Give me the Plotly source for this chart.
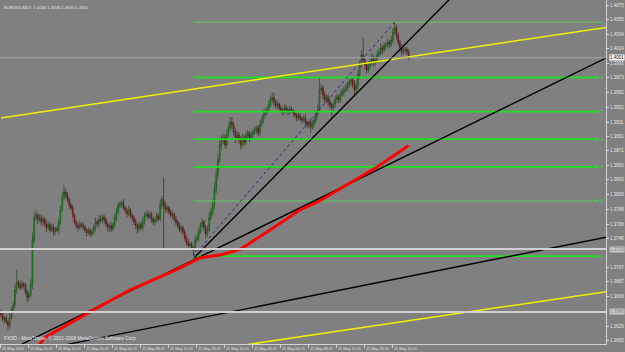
import plotly.graph_objects as go
from datetime import datetime, timedelta

# ---------------- data (prices in pips above 1.3600) ----------------
BASE_TIME = datetime(2009, 5, 20, 12, 15)   # first M15 bar
BAR = timedelta(minutes=15)

close_pips = [
    41, 34, 37, 31,   26, 37, 48, 55,   76, 86, 83, 79,   84, 82, 73, 65,
    69, 83, 146, 177, 181, 174, 177, 171, 175, 168, 163, 167, 160, 164, 157, 161,
    160, 171, 188, 205, 213, 209, 202, 195, 191, 181, 171, 166, 163, 168, 166, 164,
    160, 156, 159, 154, 157, 163, 171, 168, 175, 173, 178, 174, 168, 163, 166, 161,
    167, 177, 185, 194, 196, 198, 191, 187, 182, 188, 180, 177, 171, 166, 161, 167,
    163, 171, 180, 182, 178, 182, 175, 171, 174, 180, 175, 195, 202, 194, 188, 191,
    185, 180, 182, 175, 171, 166, 160, 163, 157, 149, 142, 138, 140, 135, 132, 146,
    149, 157, 166, 171, 163, 154, 160, 177, 185, 195, 216, 237, 258, 279, 286, 289,
    279, 293, 303, 311, 307, 297, 289, 293, 286, 279, 289, 283, 292, 296, 289, 293,
    297, 300, 303, 296, 307, 314, 321, 325, 328, 335, 342, 345, 339, 334, 336, 331,
    328, 325, 331, 328, 325, 329, 327, 324, 321, 317, 320, 315, 314, 317, 310, 307,
    311, 304, 308, 314, 321, 328, 356, 359, 349, 342, 346, 339, 335, 331, 336, 342,
    346, 342, 349, 353, 356, 359, 363, 367, 370, 364, 356, 362, 377, 391, 405, 398,
    391, 384, 390, 395, 401, 394, 398, 405, 409, 415, 412, 418, 419, 423, 420, 426,
    437, 443, 433, 423, 415, 409, 412, 413, 409, 401,
]
first_open_pips = 45

wick_up_pips = [
    3, 4, 2, 5,  3, 6, 4, 5,  8, 18, 4, 6,  5, 3, 4, 3,
    6, 8, 10, 6,  7, 3, 5, 4,  4, 3, 5, 6,  3, 5, 4, 3,
    4, 5, 6, 8,  10, 5, 4, 3,  3, 4, 2, 3,  4, 5, 3, 4,
    3, 2, 4, 3,  5, 4, 6, 3,  6, 5, 4, 3,  3, 4, 3, 5,
    4, 5, 6, 5,  4, 3, 5, 3,  4, 6, 3, 4,  3, 4, 3, 5,
    4, 6, 5, 4,  5, 3, 4, 3,  4, 5, 3, 8,  6, 31, 5, 4,
    3, 4, 5, 3,  4, 3, 5, 4,  3, 4, 3, 5,  4, 3, 2, 6,
    5, 6, 4, 5,  3, 4, 6, 8,  6, 8, 10, 9,  8, 10, 7, 6,
    5, 8, 6, 7,  7, 4, 5, 6,  4, 5, 6, 4,  5, 4, 3, 5,
    4, 5, 3, 4,  6, 5, 7, 6,  5, 6, 5, 7,  7, 4, 5, 3,
    4, 3, 5, 4,  3, 5, 4, 3,  4, 3, 5, 4,  3, 4, 5, 3,
    4, 3, 5, 6,  5, 7, 17, 6,  4, 5, 3, 4,  5, 3, 4, 6,
    5, 4, 6, 5,  4, 6, 5, 4,  5, 4, 6, 7,  8, 6, 7, 24,
    5, 4, 6, 5,  6, 4, 5, 6,  5, 6, 4, 5,  4, 5, 3, 6,
    6, 8, 5, 4,  3, 5, 4, 3,  3, 4,
]
wick_dn_pips = [
    4, 3, 5, 3,  6, 4, 3, 5,  4, 6, 5, 4,  3, 5, 4, 6,
    5, 3, 6, 5,  4, 6, 3, 5,  5, 4, 6, 3,  4, 3, 5, 4,
    3, 5, 4, 3,  4, 5, 3, 6,  4, 5, 3, 4,  5, 3, 4, 5,
    4, 5, 3, 4,  3, 4, 5, 4,  5, 3, 4, 5,  4, 5, 6, 4,
    3, 4, 5, 3,  4, 5, 3, 4,  5, 3, 4, 5,  4, 5, 6, 4,
    3, 5, 4, 3,  4, 3, 5, 4,  5, 4, 3, 4,  5, 62, 4, 5,
    4, 3, 5, 4,  5, 4, 3, 5,  4, 5, 4, 3,  5, 4, 9, 3,
    4, 5, 3, 4,  5, 6, 4, 3,  4, 5, 6, 5,  6, 5, 7, 6,
    5, 6, 4, 5,  6, 5, 7, 4,  5, 6, 4, 5,  4, 5, 6, 4,
    5, 4, 6, 5,  4, 3, 5, 4,  5, 4, 3, 5,  6, 5, 4, 5,
    4, 5, 3, 4,  5, 4, 3, 5,  4, 5, 4, 3,  5, 4, 6, 5,
    5, 8, 4, 5,  4, 5, 3, 5,  6, 5, 4, 6,  5, 13, 4, 5,
    4, 5, 4, 3,  5, 4, 5, 4,  6, 5, 10, 4,  5, 6, 4, 5,
    6, 5, 4, 5,  5, 6, 4, 5,  4, 5, 6, 4,  5, 4, 5, 4,
    5, 4, 6, 5,  6, 5, 4, 5,  4, 3,
]

# red indicator line (bar index, pips)
ma_bars = [22, 25, 50, 74, 100, 114, 126, 137, 154, 171, 181, 197, 215, 233]
ma_pips = [-1, 9, 44, 76, 104, 121, 125, 133, 160, 188, 199, 222, 248, 278]

# trend lines: (bar index, price) anchor pairs
yellow_upper = [(0, 1.39168), (347, 1.40440)]
yellow_lower = [(140, 1.35989), (347, 1.36737)]
black_steep = [(110.5, 1.37210), (258, 1.40870)]
black_middle = [(12, 1.35999), (347, 1.40023)]
black_lower = [(38, 1.35995), (347, 1.37502)]

# Fibonacci retracement
fib_low_bar, fib_low = 110, 1.3723
fib_high_bar, fib_high = 225, 1.4051
fib_end_bar = 341
fib_ratios = [0.0, 0.236, 0.382, 0.5, 0.618, 0.764, 1.0]
fib_labels = ["0.0", "23.6", "38.2", "50.0", "61.8", "76.4", "100.0"]

# horizontal lines
level_lines = [1.3733, 1.3645]
bid_price = 1.4001

# axis ticks
x_tick_bars = [0, 16, 32, 48, 64, 80, 96, 112, 128, 144, 160, 176, 192, 208, 224]
x_tick_text = ["20 May 2009", "20 May 16:15", "20 May 20:15", "21 May 00:15",
               "21 May 04:15", "21 May 08:15", "21 May 12:15", "21 May 16:15",
               "21 May 20:15", "22 May 00:15", "22 May 04:15", "22 May 08:15",
               "22 May 12:15", "22 May 16:15", "22 May 20:15"]
# (labels hidden under the line price boxes are omitted)
y_tick_vals = [1.4075, 1.4055, 1.4034, 1.4014, 1.3993, 1.3973, 1.3952, 1.3932,
               1.3911, 1.3891, 1.3871, 1.3850, 1.3830, 1.3809, 1.3789, 1.3768,
               1.3748, 1.3707, 1.3687, 1.3666, 1.3625, 1.3605]

header_text = "EURUSD,M15  1.4006 1.4006 1.4000 1.4001"
footer_text = "FXDD - MetaTrader, © 2001-2008 MetaQuotes Software Corp."

# ---------------- helpers ----------------
def t(bar):
    return BASE_TIME + BAR * bar

def price(p):
    return round(1.36 + p / 10000.0, 5)

n = len(close_pips)
times = [t(i) for i in range(n)]
# every bar opens at the prior bar's close
open_pips = [first_open_pips] + close_pips[:-1]
highs = [price(max(o, c) + u) for o, c, u in zip(open_pips, close_pips, wick_up_pips)]
lows = [price(min(o, c) - d) for o, c, d in zip(open_pips, close_pips, wick_dn_pips)]
opens = [price(o) for o in open_pips]
closes = [price(c) for c in close_pips]

BG = "#808080"
AX = "#d4d4d4"
TXT = "#e6e6e6"
FONT = "Liberation Sans"

fig = go.Figure()

fig.add_trace(go.Candlestick(
    x=times, open=opens, high=highs, low=lows, close=closes,
    increasing=dict(line=dict(color="#1f4a1f", width=0.7), fillcolor="#00d000"),
    decreasing=dict(line=dict(color="#4a1f1f", width=0.7), fillcolor="#d00000"),
    whiskerwidth=0, showlegend=False, hoverinfo="skip",
))

# bid line
fig.add_hline(y=bid_price, line=dict(color="#a6a6a6", width=1))

# horizontal level lines
for lv in level_lines:
    fig.add_hline(y=lv, line=dict(color="#d0d0d0", width=2))

# Fibonacci levels
for r, lab in zip(fib_ratios, fib_labels):
    lvl = fib_high - r * (fib_high - fib_low)
    w = 1 if r in (0.0, 0.764) else 1.8
    col = "#5ccc5c" if r in (0.0, 0.764) else "#1ee01e"
    fig.add_trace(go.Scatter(x=[t(fib_low_bar), t(fib_end_bar)], y=[lvl, lvl],
                             mode="lines", line=dict(color=col, width=w),
                             showlegend=False, hoverinfo="skip"))
    fig.add_annotation(x=1.0, xref="paper", y=lvl, yref="y", text=lab,
                       showarrow=False, xanchor="right", yanchor="middle",
                       font=dict(family=FONT, size=4.2, color="#22e022"))

# Fibonacci base (dotted)
fig.add_trace(go.Scatter(x=[t(fib_low_bar), t(fib_high_bar)], y=[fib_low, fib_high],
                         mode="lines", line=dict(color="#25258a", width=1, dash="dot"),
                         showlegend=False, hoverinfo="skip"))

def add_line(pts, color, width):
    fig.add_trace(go.Scatter(x=[t(b) for b, _ in pts], y=[p for _, p in pts],
                             mode="lines", line=dict(color=color, width=width),
                             showlegend=False, hoverinfo="skip"))

add_line(yellow_upper, "#f0f000", 1.5)
add_line(yellow_lower, "#f0f000", 1.5)
add_line(black_steep, "#000000", 1.4)
add_line(black_middle, "#000000", 1.4)
add_line(black_lower, "#000000", 1.4)

fig.add_trace(go.Scatter(x=[t(b) for b in ma_bars], y=[price(p) for p in ma_pips],
                         mode="lines", line=dict(color="#ff0000", width=3),
                         showlegend=False, hoverinfo="skip"))

# price boxes on the right axis
for val, bg, fg in [(bid_price, "#ffffff", "#000000"),
                    (level_lines[0], "#c8c8c8", "#808080"),
                    (level_lines[1], "#c8c8c8", "#808080")]:
    fig.add_annotation(x=1.0, xref="paper", y=val, yref="y", text=f"{val:.4f}",
                       showarrow=False, xanchor="left", yanchor="middle", xshift=3,
                       bgcolor=bg, borderpad=0,
                       font=dict(family=FONT, size=4.5, color=fg))

fig.add_annotation(x=0.004, xref="paper", y=0.99, yref="paper", text=header_text,
                   showarrow=False, xanchor="left", yanchor="top",
                   font=dict(family=FONT, size=4.2, color=TXT))
fig.add_annotation(x=0.004, xref="paper", y=0.004, yref="paper", text=footer_text,
                   showarrow=False, xanchor="left", yanchor="bottom",
                   font=dict(family=FONT, size=4.8, color=TXT))

fig.update_layout(
    width=625, height=352, autosize=False,
    margin=dict(l=0, r=19, t=0, b=8),
    paper_bgcolor=BG, plot_bgcolor=BG,
    showlegend=False,
    xaxis=dict(
        type="date", range=[t(-0.55), t(345.8)],
        rangeslider=dict(visible=False),
        tickvals=[t(b) for b in x_tick_bars], ticktext=x_tick_text,
        ticklabelposition="outside right", tickangle=0, automargin=False,
        ticks="outside", ticklen=3, tickcolor=AX,
        tickfont=dict(family=FONT, size=3.8, color=TXT),
        showgrid=False, zeroline=False,
        showline=True, linecolor=AX, linewidth=1, mirror=True,
    ),
    yaxis=dict(
        side="right", range=[1.3600, 1.4082], automargin=False,
        tickvals=y_tick_vals, ticktext=[f"{v:.4f}" for v in y_tick_vals],
        ticks="outside", ticklen=2, tickcolor=AX,
        tickfont=dict(family=FONT, size=4.5, color=TXT),
        showgrid=False, zeroline=False,
        showline=True, linecolor=AX, linewidth=1,
    ),
)

fig.write_html("out.html")
